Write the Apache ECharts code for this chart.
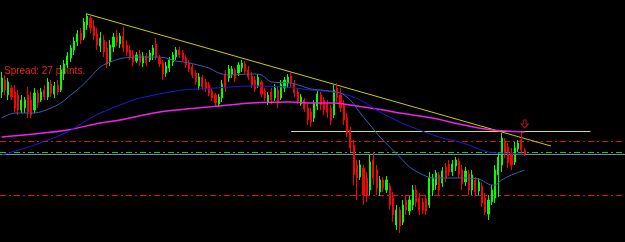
<!DOCTYPE html>
<html><head><meta charset="utf-8">
<script src="https://cdn.jsdelivr.net/npm/echarts@6/dist/echarts.min.js"></script>
<style>html,body{margin:0;padding:0;background:#000;}#c{width:625px;height:242px;}</style>
</head><body><div id="c"></div>
<script>
const openP=[1.2908,1.2920,1.2905,1.2912,1.2908,1.2905,1.2890,1.2892,1.2905,1.2900,
1.2890,1.2907,1.2900,1.2910,1.2903,1.2916,1.2906,1.2915,1.2910,1.2926,
1.2935,1.2942,1.2950,1.2958,1.2967,1.2962,1.2975,1.2982,1.2974,1.2966,
1.2954,1.2960,1.2952,1.2938,1.2953,1.2964,1.2956,1.2964,1.2955,1.2950,
1.2945,1.2939,1.2946,1.2937,1.2944,1.2940,1.2945,1.2956,1.2942,1.2937,
1.2927,1.2932,1.2938,1.2943,1.2950,1.2947,1.2942,1.2937,1.2933,1.2927,
1.2914,1.2923,1.2918,1.2915,1.2909,1.2905,1.2896,1.2902,1.2926,1.2922,
1.2926,1.2930,1.2927,1.2932,1.2936,1.2930,1.2924,1.2920,1.2914,1.2918,
1.2909,1.2898,1.2908,1.2902,1.2910,1.2902,1.2912,1.2917,1.2924,1.2917,
1.2908,1.2896,1.2900,1.2892,1.2888,1.2882,1.2894,1.2905,1.2900,1.2896,
1.2892,1.2885,1.2912,1.2905,1.2895,1.2882,1.2870,1.2855,1.2835,1.2823,
1.2832,1.2822,1.2810,1.2840,1.2830,1.2808,1.2820,1.2810,1.2814,1.2802,
1.2775,1.2790,1.2778,1.2800,1.2789,1.2795,1.2810,1.2802,1.2798,1.2801,
1.2795,1.2810,1.2815,1.2825,1.2817,1.2833,1.2836,1.2828,1.2834,1.2839,
1.2830,1.2818,1.2826,1.2810,1.2820,1.2809,1.2814,1.2802,1.2786,1.2798,
1.2802,1.2825,1.2835,1.2858,1.2853,1.2847,1.2838,1.2851,1.2860,1.2850];
const closeP=[1.2922,1.2910,1.2918,1.2903,1.2892,1.2890,1.2900,1.2900,1.2888,1.2885,
1.2907,1.2897,1.2908,1.2903,1.2918,1.2907,1.2914,1.2908,1.2930,1.2936,
1.2944,1.2952,1.2959,1.2966,1.2960,1.2978,1.2984,1.2972,1.2964,1.2955,
1.2962,1.2948,1.2936,1.2955,1.2963,1.2958,1.2964,1.2952,1.2948,1.2943,
1.2938,1.2945,1.2938,1.2944,1.2937,1.2947,1.2952,1.2943,1.2936,1.2926,
1.2934,1.2940,1.2945,1.2950,1.2945,1.2941,1.2935,1.2931,1.2925,1.2918,
1.2923,1.2913,1.2911,1.2907,1.2902,1.2897,1.2903,1.2916,1.2912,1.2931,
1.2931,1.2922,1.2935,1.2937,1.2929,1.2923,1.2915,1.2911,1.2923,1.2906,
1.2902,1.2905,1.2900,1.2912,1.2897,1.2916,1.2920,1.2923,1.2917,1.2907,
1.2899,1.2903,1.2891,1.2880,1.2878,1.2896,1.2906,1.2895,1.2890,1.2888,
1.2880,1.2910,1.2903,1.2892,1.2880,1.2867,1.2852,1.2825,1.2822,1.2835,
1.2805,1.2804,1.2838,1.2822,1.2812,1.2820,1.2812,1.2820,1.2795,1.2785,
1.2790,1.2774,1.2795,1.2790,1.2800,1.2810,1.2798,1.2790,1.2790,1.2789,
1.2822,1.2822,1.2827,1.2810,1.2829,1.2822,1.2828,1.2836,1.2840,1.2826,
1.2816,1.2829,1.2810,1.2825,1.2808,1.2818,1.2797,1.2788,1.2800,1.2810,
1.2830,1.2843,1.2862,1.2848,1.2837,1.2835,1.2852,1.2857,1.2850,1.2846];
const lowP=[1.2902,1.2905,1.2900,1.2900,1.2888,1.2885,1.2887,1.2887,1.2882,1.2882,
1.2887,1.2892,1.2898,1.2900,1.2900,1.2903,1.2902,1.2905,1.2908,1.2920,
1.2932,1.2938,1.2945,1.2954,1.2956,1.2960,1.2970,1.2967,1.2960,1.2950,
1.2948,1.2943,1.2932,1.2934,1.2948,1.2954,1.2952,1.2948,1.2944,1.2940,
1.2934,1.2937,1.2934,1.2933,1.2934,1.2938,1.2940,1.2940,1.2933,1.2920,
1.2923,1.2928,1.2934,1.2940,1.2942,1.2938,1.2932,1.2928,1.2922,1.2915,
1.2910,1.2910,1.2908,1.2904,1.2899,1.2894,1.2893,1.2898,1.2908,1.2918,
1.2922,1.2918,1.2924,1.2928,1.2926,1.2920,1.2912,1.2908,1.2912,1.2903,
1.2899,1.2895,1.2896,1.2899,1.2892,1.2900,1.2908,1.2912,1.2913,1.2903,
1.2896,1.2894,1.2888,1.2875,1.2873,1.2878,1.2890,1.2890,1.2885,1.2882,
1.2875,1.2882,1.2898,1.2888,1.2875,1.2863,1.2848,1.2815,1.2800,1.2820,
1.2795,1.2798,1.2805,1.2815,1.2805,1.2804,1.2808,1.2807,1.2790,1.2778,
1.2770,1.2767,1.2775,1.2785,1.2785,1.2790,1.2793,1.2785,1.2786,1.2785,
1.2792,1.2804,1.2810,1.2805,1.2813,1.2818,1.2824,1.2824,1.2829,1.2822,
1.2810,1.2814,1.2805,1.2805,1.2804,1.2805,1.2793,1.2785,1.2780,1.2795,
1.2797,1.2803,1.2828,1.2842,1.2832,1.2830,1.2835,1.2848,1.2845,1.2844];
const highP=[1.2928,1.2925,1.2922,1.2915,1.2915,1.2910,1.2905,1.2903,1.2913,1.2908,
1.2912,1.2910,1.2912,1.2915,1.2922,1.2920,1.2918,1.2920,1.2935,1.2940,
1.2948,1.2955,1.2963,1.2970,1.2972,1.2982,1.2987,1.2985,1.2980,1.2972,
1.2968,1.2965,1.2958,1.2960,1.2967,1.2970,1.2967,1.2973,1.2960,1.2955,
1.2950,1.2948,1.2950,1.2948,1.2947,1.2950,1.2955,1.2962,1.2945,1.2940,
1.2938,1.2943,1.2948,1.2953,1.2953,1.2950,1.2945,1.2940,1.2936,1.2930,
1.2927,1.2925,1.2921,1.2918,1.2912,1.2907,1.2906,1.2920,1.2930,1.2935,
1.2934,1.2932,1.2938,1.2940,1.2939,1.2934,1.2928,1.2924,1.2926,1.2920,
1.2912,1.2908,1.2912,1.2916,1.2913,1.2920,1.2923,1.2926,1.2928,1.2920,
1.2912,1.2906,1.2902,1.2896,1.2892,1.2900,1.2910,1.2908,1.2903,1.2900,
1.2895,1.2915,1.2917,1.2912,1.2900,1.2887,1.2873,1.2860,1.2840,1.2840,
1.2835,1.2828,1.2845,1.2848,1.2835,1.2824,1.2823,1.2824,1.2817,1.2808,
1.2795,1.2793,1.2800,1.2805,1.2804,1.2815,1.2815,1.2807,1.2802,1.2805,
1.2828,1.2826,1.2830,1.2828,1.2833,1.2837,1.2840,1.2840,1.2843,1.2842,
1.2835,1.2833,1.2830,1.2830,1.2823,1.2822,1.2817,1.2807,1.2805,1.2815,
1.2835,1.2848,1.2867,1.2862,1.2857,1.2852,1.2858,1.2860,1.2868,1.2852];

// moving averages, sampled [bar index, price]
const maMagenta=[[0,1.2863],[10,1.2866],[20,1.2870],[30,1.2877],[36,1.2880],[48,1.2888],[66,1.2894],[76,1.2897],[88,1.2898],[94,1.2897],[101,1.2897],[106,1.2895],[116,1.2890],[121,1.2887],[131,1.2882],[139,1.2876],[149,1.2870],[159,1.2868]];
const maBlue=[[0,1.2845],[10,1.2855],[20,1.2868],[26,1.2880],[30,1.2887],[40,1.2900],[45,1.2904],[48,1.2906],[55,1.2910],[65,1.2912],[76,1.2914],[86,1.2913],[94,1.2910],[103,1.2907],[109,1.2900],[115,1.2888],[121,1.2878],[127,1.2870],[133,1.2863],[139,1.2858],[142,1.2855],[148,1.2848],[159,1.2846]];
const maSteel=[[0,1.2882],[4,1.2887],[10,1.2887],[15,1.2892],[18,1.2897],[21,1.2905],[24,1.2913],[27,1.2923],[30,1.2933],[33,1.2938],[37,1.2942],[42,1.2943],[48,1.2943],[53,1.2939],[57,1.2937],[63,1.2932],[66,1.2927],[69,1.2925],[76,1.2926],[79,1.2925],[82,1.2918],[88,1.2917],[94,1.2911],[97,1.2910],[103,1.2907],[106,1.2900],[109,1.2887],[112,1.2875],[115,1.2863],[118,1.2853],[121,1.2843],[124,1.2833],[127,1.2827],[131,1.2822],[139,1.2822],[145,1.2821],[149,1.2815],[150,1.2815],[152,1.2820],[155,1.2825],[159,1.2830]];

// horizontal levels and trend line
const levelRedUpper=1.2859, levelGreen=1.2848, levelGray=1.2846, levelRedLower=1.2805;
const hLineYellow={from:88,to:179,price:1.2869};
const trendLine={from:[26,1.2986],to:[167,1.2854]};
const arrowMark=[159,1.2876];
const spreadText='Spread: 27 points.';

const totalSlots=190;
const categories=[];
for(let i=0;i<totalSlots;i++){categories.push('B'+i);}
const candles=openP.map((o,i)=>[o,closeP[i],lowP[i],highP[i]]);

const chart=echarts.init(document.getElementById('c'),null,{renderer:'canvas'});
const dashDot=[6,3,2,3];
chart.setOption({
  backgroundColor:'#000000',
  animation:false,
  grid:{left:0,right:0,top:0,bottom:0},
  xAxis:{type:'category',data:categories,boundaryGap:true,show:false},
  yAxis:{type:'value',min:1.2758,max:1.3000,show:false,splitLine:{show:false}},
  graphic:[{type:'text',left:4,top:66,style:{text:spreadText,fill:'#ee1e1e',font:'10px "Liberation Sans", Arial, sans-serif'}}],
  series:[
    {type:'line',data:[],silent:true,z:1,
     markLine:{silent:true,precision:5,symbol:['none','none'],label:{show:false},z:1,
       data:[
        {yAxis:levelRedUpper,lineStyle:{color:'#e01010',width:1,type:dashDot}},
        {yAxis:levelGreen,lineStyle:{color:'#22c022',width:1,type:dashDot}},
        {yAxis:levelGray,lineStyle:{color:'#7a8a9c',width:1,type:'solid'}},
        {yAxis:levelRedLower,lineStyle:{color:'#e01010',width:1,type:dashDot}},
        [{coord:[categories[hLineYellow.from],hLineYellow.price],lineStyle:{color:'#e0e030',width:1,type:'solid'}},{coord:[categories[hLineYellow.to],hLineYellow.price]}],
        [{coord:[categories[trendLine.from[0]],trendLine.from[1]],lineStyle:{color:'#cccc00',width:1,type:'solid'}},{coord:[categories[trendLine.to[0]],trendLine.to[1]]}]
       ]}},
    {type:'candlestick',data:candles,barWidth:1.6,z:2,
     itemStyle:{color:'#00ff00',color0:'#ff0000',borderColor:'#00ff00',borderColor0:'#ff0000',borderWidth:1},
     markPoint:{silent:true,label:{show:false},
       data:[{coord:[categories[arrowMark[0]],arrowMark[1]],symbol:'path://M3,0 L7,0 L7,5 L10,5 L5,10 L0,5 L3,5 Z',symbolSize:[7,8],
         itemStyle:{color:'rgba(0,0,0,0)',borderColor:'#b01414',borderWidth:1}}]}},
    {type:'line',data:maMagenta,smooth:0.3,showSymbol:false,silent:true,z:3,lineStyle:{color:'#ee22ee',width:1.5}},
    {type:'line',data:maBlue,smooth:0.3,showSymbol:false,silent:true,z:3,lineStyle:{color:'#1c1cd8',width:1}},
    {type:'line',data:maSteel,smooth:0.3,showSymbol:false,silent:true,z:3,lineStyle:{color:'#3a5cb8',width:1}}
  ]
});
</script></body></html>
